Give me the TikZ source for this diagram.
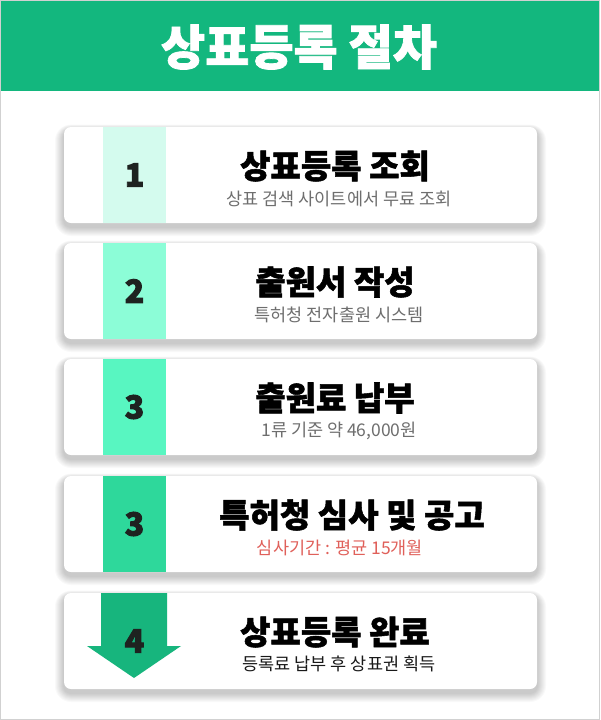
\documentclass[tikz,border=0pt]{standalone}
\usepackage{fontspec}
\newfontfamily\kr{Noto Sans CJK KR}
\newfontfamily\krblack{Noto Sans CJK KR Black}
\newfontfamily\krheavy[FakeBold=1.6]{Noto Sans CJK KR Black}
\newfontfamily\krdigit[FakeBold=3]{Noto Sans CJK KR Black}
\definecolor{hdr}{RGB}{19,183,126}
\definecolor{s1}{RGB}{212,251,238}
\definecolor{s2}{RGB}{140,253,215}
\definecolor{s3}{RGB}{88,246,193}
\definecolor{s4}{RGB}{46,216,155}
\definecolor{s5}{RGB}{23,181,125}
\definecolor{subgray}{RGB}{110,110,110}
\definecolor{subred}{RGB}{224,96,90}
\definecolor{numc}{RGB}{30,34,32}
\tikzset{
  cardbox/.style={fill=white, rounded corners=7pt, minimum width=473pt, minimum height=96pt, inner sep=0pt},
  ttl/.style={font=\krheavy\fontsize{33}{36}\selectfont, text=black, inner sep=0pt},
  sub/.style={font=\kr\fontsize{17.5}{20}\selectfont, text=subgray, inner sep=0pt},
  num/.style={font=\krdigit\fontsize{32}{34}\selectfont, text=numc, inner sep=0pt},
}
\newcommand\cardshade[1]{%
  \foreach \i in {1,...,9}{
    \fill[black, opacity=0.024, rounded corners=7pt+\i pt] (64-\i,#1-48+3-\i*0.6) rectangle (537+\i,#1+48+4+\i);
  }}
\begin{document}
\begin{tikzpicture}[x=1pt,y=-1pt]
\useasboundingbox (0,0) rectangle (600,720);
\fill[white] (0,0) rectangle (600,720);
\fill[hdr] (0,0) rectangle (600,91);
\draw[black!18, line width=1pt] (0.5,0.5) rectangle (599.5,719.5);
\node[font=\krheavy\fontsize{48}{52}\selectfont, text=white, inner sep=0pt] (head) at (299,47) {상표등록 절차};
% card 1
\cardshade{175}
\node[cardbox] (c1) at (300.5,175) {};
\fill[s1] (103,127) rectangle (166,223);
\node[num] (n1) at (134.5,175) {1};
\node[ttl] (t1) at (335,166) {상표등록 조회};
\node[sub] (u1) at (339,199) {상표 검색 사이트에서 무료 조회};
% card 2
\cardshade{291}
\node[cardbox] (c2) at (300.5,291) {};
\fill[s2] (103,243) rectangle (166,339);
\node[num] (n2) at (134.5,291) {2};
\node[ttl] (t2) at (335,282) {출원서 작성};
\node[sub] (u2) at (339,315) {특허청 전자출원 시스템};
% card 3
\cardshade{407}
\node[cardbox] (c3) at (300.5,407) {};
\fill[s3] (103,359) rectangle (166,455);
\node[num] (n3) at (134.5,407) {3};
\node[ttl] (t3) at (335,398) {출원료 납부};
\node[sub] (u3) at (339,431) {1류 기준 약 46,000원};
% card 4
\cardshade{524}
\node[cardbox] (c4) at (300.5,524) {};
\fill[s4] (103,476) rectangle (166,572);
\node[num] (n4) at (134.5,524) {3};
\node[ttl] (t4) at (352,515) {특허청 심사 및 공고};
\node[sub, text=subred] (u4) at (340,548) {심사기간 : 평균 15개월};
% card 5
\cardshade{641}
\node[cardbox] (c5) at (300.5,641) {};
\fill[s5] (101,593) -- (167,593) -- (167,646) -- (181,646) -- (134,678) -- (87,646) -- (101,646) -- cycle;
\node[num] (n5) at (134.5,641) {4};
\node[ttl] (t5) at (335,632) {상표등록 완료};
\node[sub, text=black!90] (u5) at (339,664) {등록료 납부 후 상표권 획득};
\end{tikzpicture}
\end{document}
